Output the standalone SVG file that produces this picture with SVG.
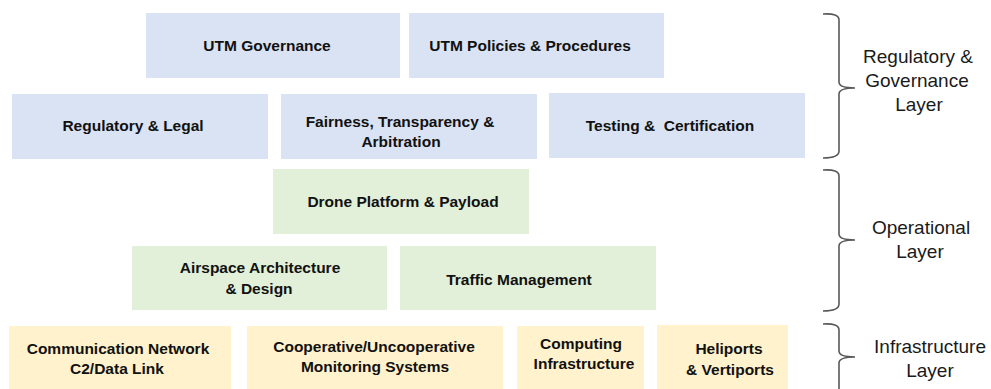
<svg xmlns="http://www.w3.org/2000/svg" width="991" height="389" viewBox="0 0 991 389">
<style>
.b{fill:#dae3f3}
.g{fill:#e2f0d9}
.y{fill:#fff2cc}
.t{font-family:"Liberation Sans",Arial,sans-serif;font-weight:bold;font-size:15.5px;fill:#111;text-anchor:middle}
.l{font-family:"Liberation Sans",Arial,sans-serif;font-size:19px;fill:#1a1a1a;text-anchor:middle}
.br{fill:none;stroke:#595959;stroke-width:1.6}
</style>
<rect width="991" height="389" fill="#ffffff"/>
<g id="utm-governance"><rect class="b" x="146" y="13" width="254" height="65"/><text class="t" x="267" y="51">UTM Governance</text></g>
<g id="utm-policies"><rect class="b" x="409" y="13" width="255" height="65"/><text class="t" x="530" y="51">UTM Policies &amp; Procedures</text></g>
<g id="regulatory-legal"><rect class="b" x="12" y="94" width="256" height="65"/><text class="t" x="133" y="131">Regulatory &amp; Legal</text></g>
<g id="fairness"><rect class="b" x="281" y="94" width="256" height="65"/><text class="t" x="400" y="127">Fairness, Transparency &amp;</text><text class="t" x="401" y="147">Arbitration</text></g>
<g id="testing"><rect class="b" x="549" y="93" width="256" height="65"/><text class="t" x="670" y="131">Testing &amp;&#160; Certification</text></g>
<g id="drone"><rect class="g" x="273" y="169" width="256" height="65"/><text class="t" x="403" y="207">Drone Platform &amp; Payload</text></g>
<g id="airspace"><rect class="g" x="132" y="246" width="255" height="64"/><text class="t" x="260" y="273">Airspace Architecture</text><text class="t" x="259" y="294">&amp; Design</text></g>
<g id="traffic"><rect class="g" x="400" y="246" width="256" height="64"/><text class="t" x="519" y="285">Traffic Management</text></g>
<g id="communication"><rect class="y" x="9" y="326" width="222" height="63"/><text class="t" x="118" y="354">Communication Network</text><text class="t" x="117" y="374">C2/Data Link</text></g>
<g id="monitoring"><rect class="y" x="247" y="326" width="256" height="63"/><text class="t" x="374" y="352">Cooperative/Uncooperative</text><text class="t" x="375" y="372">Monitoring Systems</text></g>
<g id="computing"><rect class="y" x="517" y="326" width="127" height="63"/><text class="t" x="581" y="349">Computing</text><text class="t" x="584" y="369">Infrastructure</text></g>
<g id="heliports"><rect class="y" x="657" y="325" width="131" height="64"/><text class="t" x="729" y="354">Heliports</text><text class="t" x="730" y="375">&amp; Vertiports</text></g>
<g id="connectors">
<path class="br" d="M823,14 Q839,13 839,20 L839,82 Q839,88 855,88 Q839,88 839,94 L839,151 Q839,158 823,158"/>
<path class="br" d="M823,170 Q839,169 839,176 L839,234 Q839,240 855,240 Q839,240 839,246 L839,304 Q839,311 823,311"/>
<path class="br" d="M823,324 Q839,323 839,330 L839,351 Q839,357 855,357 Q839,357 839,363 L839,389"/>
</g>
<g id="layer-labels">
<text class="l" x="918" y="63">Regulatory &amp;</text>
<text class="l" x="917" y="87">Governance</text>
<text class="l" x="919" y="111">Layer</text>
<text class="l" x="921" y="234">Operational</text>
<text class="l" x="920" y="258">Layer</text>
<text class="l" x="930" y="353">Infrastructure</text>
<text class="l" x="930" y="377">Layer</text>
</g>
</svg>
